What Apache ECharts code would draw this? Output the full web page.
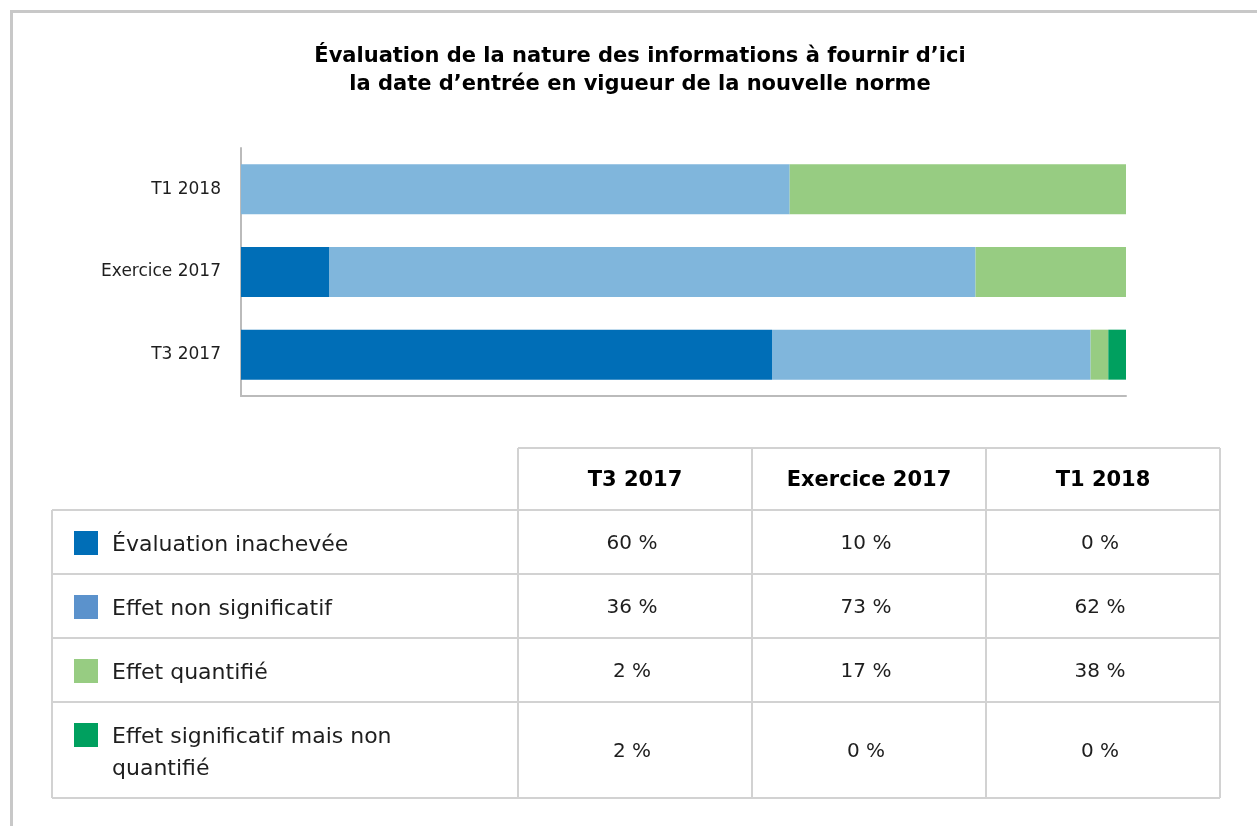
<!DOCTYPE html>
<html>
<head>
<meta charset="utf-8">
<script src="https://cdn.jsdelivr.net/npm/echarts@6/dist/echarts.min.js"></script>
<style>
html, body { margin: 0; padding: 0; background: #fff; }
#chart { width: 1257px; height: 826px; }
</style>
</head>
<body>
<div id="chart"></div>
<script>
// ====== données ======
const titleLines = [
    'Évaluation de la nature des informations à fournir d’ici',
    'la date d’entrée en vigueur de la nouvelle norme'
];
const periods = ['T3 2017', 'Exercice 2017', 'T1 2018'];
const seriesNames = [
    'Évaluation inachevée',
    'Effet non significatif',
    'Effet quantifié',
    'Effet significatif mais non quantifié'
];
const inacheve = [60, 10, 0];
const nonSignificatif = [36, 73, 62];
const quantifie = [2, 17, 38];
const significatifNonQuantifie = [2, 0, 0];
const seriesValues = [inacheve, nonSignificatif, quantifie, significatifNonQuantifie];

// ====== styles ======
const barColors = ['#006eb7', '#80b6dc', '#97cc82', '#00a05f'];
const swatchColors = ['#006eb7', '#5b92cc', '#97cc82', '#00a05f'];
const FONT = '"DejaVu Sans", "Open Sans", sans-serif';
const gridColor = '#d2d2d2';
const textColor = '#1e1e1e';

// tableau : bords des colonnes et des lignes
const colX = [52, 518, 752, 986, 1220];
const rowY = [448, 510, 574, 638, 702, 798];

function buildGraphics() {
    const g = [];
    // cadre extérieur
    g.push({ type: 'line', shape: { x1: 10, y1: 11.5, x2: 1257, y2: 11.5 }, style: { stroke: '#c8c8c8', lineWidth: 3 } });
    g.push({ type: 'line', shape: { x1: 11.5, y1: 10, x2: 11.5, y2: 826 }, style: { stroke: '#c8c8c8', lineWidth: 3 } });

    // titre
    titleLines.forEach((t, i) => {
        g.push({
            type: 'text', x: 640, y: 57 + i * 28,
            style: { text: t, font: 'bold 21px ' + FONT, fill: '#000', align: 'center', verticalAlign: 'middle' }
        });
    });

    // lignes du tableau
    g.push({ type: 'line', shape: { x1: colX[1], y1: rowY[0], x2: colX[4], y2: rowY[0] }, style: { stroke: gridColor, lineWidth: 2 } });
    for (let r = 1; r < rowY.length; r++) {
        g.push({ type: 'line', shape: { x1: colX[0], y1: rowY[r], x2: colX[4], y2: rowY[r] }, style: { stroke: gridColor, lineWidth: 2 } });
    }
    g.push({ type: 'line', shape: { x1: colX[0], y1: rowY[1], x2: colX[0], y2: rowY[5] }, style: { stroke: gridColor, lineWidth: 2 } });
    for (let c = 1; c < colX.length; c++) {
        g.push({ type: 'line', shape: { x1: colX[c], y1: rowY[0], x2: colX[c], y2: rowY[5] }, style: { stroke: gridColor, lineWidth: 2 } });
    }

    // en-têtes
    periods.forEach((p, c) => {
        g.push({
            type: 'text', x: (colX[c + 1] + colX[c + 2]) / 2, y: (rowY[0] + rowY[1]) / 2 + 2,
            style: { text: p, font: 'bold 21px ' + FONT, fill: '#000', align: 'center', verticalAlign: 'middle' }
        });
    });

    // lignes : pastille + libellé + valeurs
    seriesNames.forEach((name, r) => {
        const top = rowY[r + 1], bottom = rowY[r + 2];
        g.push({ type: 'rect', shape: { x: 74, y: top + 21, width: 24, height: 24 }, style: { fill: swatchColors[r] } });
        g.push({
            type: 'text', x: 112, y: top + 19,
            style: {
                text: name, font: '22px ' + FONT, fill: textColor, align: 'left', verticalAlign: 'top',
                width: 330, overflow: 'break', lineHeight: 32
            }
        });
        seriesValues[r].forEach((v, c) => {
            g.push({
                type: 'text', x: (colX[c + 1] + colX[c + 2]) / 2 - 3, y: (top + bottom) / 2 + 2,
                style: { text: v + ' %', font: '20px ' + FONT, fill: textColor, align: 'center', verticalAlign: 'middle' }
            });
        });
    });
    return g;
}

function initChart() {
    const myChart = echarts.init(document.getElementById('chart'));
    const option = {
        animation: false,
        backgroundColor: '#fff',
        grid: { left: 241, right: 131, top: 148, bottom: 430 },
        xAxis: {
            type: 'value', min: 0, max: 100,
            axisLine: { show: true, lineStyle: { color: '#bbbbbb', width: 2 } },
            axisTick: { show: false }, axisLabel: { show: false }, splitLine: { show: false }
        },
        yAxis: {
            type: 'category', data: periods,
            axisLine: { show: true, lineStyle: { color: '#bbbbbb', width: 2 } },
            axisTick: { show: false },
            axisLabel: { color: textColor, fontSize: 17, fontFamily: FONT, margin: 20 }
        },
        series: seriesNames.map((name, i) => ({
            name: name,
            type: 'bar',
            stack: 'total',
            barWidth: 50,
            silent: true,
            itemStyle: { color: barColors[i] },
            data: seriesValues[i]
        })),
        graphic: buildGraphics()
    };
    myChart.setOption(option);
    return myChart;
}

window.onload = () => {
    initChart();
};
</script>
</body>
</html>
